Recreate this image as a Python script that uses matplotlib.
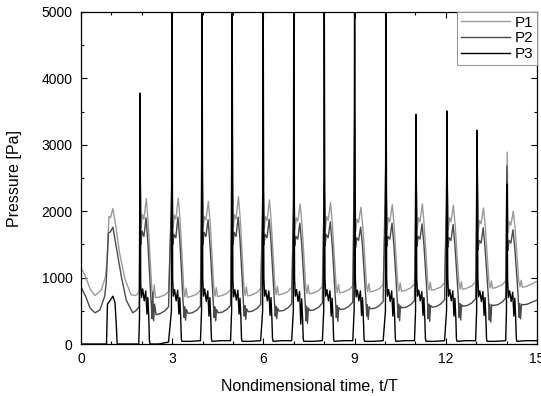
import matplotlib
matplotlib.use("Agg")
import matplotlib.pyplot as plt
from matplotlib.ticker import MultipleLocator

plt.rcParams['font.family'] = ['Liberation Sans', 'DejaVu Sans']

# start time of each pressure cycle (t/T)
cycle_start = [1.96, 3.01, 4.00, 4.99, 6.01, 7.02, 8.02, 9.02, 10.05, 11.04, 12.06, 13.05, 14.03]

# first (slow) bump before the periodic cycles
p1_init_t = [0.0, 0.13, 0.30, 0.46, 0.66, 0.80, 0.86, 0.92, 0.97, 1.05, 1.15, 1.27, 1.45, 1.65, 1.80, 1.92]
p1_init = [1140, 1040, 830, 730, 810, 1000, 1260, 1920, 1900, 2040, 1760, 1370, 970, 740, 730, 790]
p2_init_t = [0.0, 0.16, 0.30, 0.46, 0.62, 0.78, 0.83, 0.90, 0.97, 1.05, 1.15, 1.33, 1.49, 1.70, 1.80, 1.92]
p2_init = [860, 710, 540, 470, 510, 720, 920, 1670, 1690, 1760, 1490, 1010, 660, 470, 500, 560]
p3_init_t = [0.0, 0.84, 0.87, 0.95, 1.05, 1.12, 1.16, 1.19, 1.90]
p3_init = [0, 0, 600, 650, 720, 620, 300, 0, 0]

# P1: values at fixed phases inside each cycle
p1_phase = [-0.01, 0.02, 0.06, 0.11, 0.19, 0.25, 0.37, 0.41, 0.45, 0.49, 0.60, 0.80, 0.92]
p1_cycles = [
    [2420, 1750, 1950, 1880, 2190, 1820, 820, 700, 890, 700, 705, 740, 790],
    [2300, 1750, 1940, 1880, 2200, 1870, 830, 710, 840, 705, 715, 750, 810],
    [2570, 1750, 1920, 1870, 2150, 1820, 840, 720, 850, 715, 725, 760, 820],
    [2350, 1750, 1950, 1880, 2220, 1870, 850, 730, 860, 725, 735, 775, 835],
    [2300, 1740, 1920, 1860, 2170, 1820, 860, 745, 870, 740, 750, 790, 850],
    [2200, 1730, 1900, 1850, 2110, 1800, 870, 760, 890, 755, 765, 805, 865],
    [2300, 1730, 1920, 1860, 2130, 1800, 880, 775, 900, 770, 780, 820, 880],
    [2400, 1700, 1880, 1830, 2060, 1770, 890, 790, 910, 785, 795, 835, 895],
    [2400, 1720, 1900, 1840, 2100, 1780, 900, 800, 920, 795, 805, 845, 905],
    [2400, 1720, 1900, 1840, 2110, 1780, 910, 815, 930, 810, 820, 860, 920],
    [2400, 1720, 1900, 1840, 2090, 1780, 920, 830, 940, 825, 835, 875, 935],
    [2400, 1700, 1860, 1810, 2050, 1760, 930, 845, 950, 840, 850, 890, 950],
    [2890, 1680, 1840, 1790, 2000, 1740, 940, 860, 960, 855, 865, 905, 935],
]
p1_end = 940

# P2
p2_phase = [-0.02, 0.01, 0.05, 0.11, 0.18, 0.24, 0.35, 0.38, 0.40, 0.43, 0.46, 0.51, 0.65, 0.80, 0.92]
p2_cycles = [
    [3300, 1500, 1700, 1620, 1900, 1520, 600, 380, 780, 350, 600, 440, 460, 500, 560],
    [2470, 1500, 1650, 1600, 1910, 1570, 620, 400, 560, 360, 520, 460, 470, 510, 570],
    [3400, 1500, 1680, 1620, 1870, 1520, 630, 400, 560, 350, 520, 470, 480, 520, 580],
    [3700, 1500, 1680, 1620, 1910, 1570, 640, 420, 580, 370, 530, 485, 495, 535, 595],
    [2570, 1500, 1650, 1600, 1880, 1540, 650, 420, 570, 380, 540, 495, 505, 545, 605],
    [2270, 1480, 1620, 1580, 1820, 1500, 660, 350, 570, 310, 540, 505, 515, 555, 615],
    [2420, 1480, 1650, 1600, 1840, 1520, 670, 400, 580, 340, 550, 520, 530, 570, 630],
    [3370, 1450, 1600, 1560, 1760, 1470, 680, 420, 590, 370, 560, 530, 540, 580, 640],
    [2890, 1470, 1620, 1580, 1820, 1500, 690, 400, 600, 350, 570, 545, 555, 595, 655],
    [3020, 1470, 1620, 1580, 1810, 1500, 700, 380, 600, 340, 580, 555, 565, 605, 665],
    [2820, 1460, 1600, 1560, 1800, 1490, 710, 400, 610, 360, 590, 570, 580, 620, 680],
    [3150, 1420, 1560, 1520, 1750, 1450, 720, 360, 600, 330, 590, 580, 590, 630, 690],
    [2680, 1400, 1560, 1520, 1720, 1440, 730, 400, 610, 380, 600, 590, 600, 630, 650],
]
p2_end = 660

# P3
p3_phase = [-0.035, -0.02, 0.005, 0.03, 0.07, 0.12, 0.17, 0.21, 0.24, 0.27, 0.29, 0.31, 0.60, 0.92]
p3_cycles = [
    [400, 3780, 900, 700, 830, 650, 800, 450, 700, 400, 60, 0, 0, 30],
    [500, 6000, 1000, 720, 820, 650, 810, 450, 700, 400, 80, 40, 40, 50],
    [500, 6000, 1000, 720, 830, 640, 800, 420, 700, 380, 80, 40, 50, 50],
    [500, 6000, 1000, 710, 820, 660, 810, 450, 690, 400, 80, 40, 40, 50],
    [500, 6000, 1000, 720, 810, 650, 800, 430, 700, 380, 80, 40, 50, 50],
    [500, 6000, 1000, 720, 820, 640, 790, 300, 680, 380, 80, 40, 40, 50],
    [500, 6000, 1000, 720, 820, 650, 800, 420, 690, 400, 80, 40, 50, 50],
    [500, 6000, 1000, 710, 810, 650, 800, 430, 700, 380, 80, 40, 40, 50],
    [500, 6000, 1000, 720, 820, 640, 800, 420, 690, 390, 80, 40, 50, 50],
    [500, 3460, 1000, 720, 810, 650, 790, 430, 700, 380, 80, 40, 40, 50],
    [500, 3510, 1000, 720, 820, 650, 800, 420, 690, 390, 80, 40, 50, 50],
    [500, 3220, 1000, 710, 800, 640, 790, 430, 700, 380, 80, 40, 40, 50],
    [500, 2410, 950, 700, 800, 640, 780, 420, 690, 380, 80, 40, 50, 50],
]
p3_end = 50


def build(t0, p0, phases, rows, p_end):
    t = list(t0)
    p = list(p0)
    for k, row in zip(cycle_start, rows):
        for ph, v in zip(phases, row):
            t.append(k + ph)
            p.append(v)
    t.append(15.0)
    p.append(p_end)
    return t, p


t1, y1 = build(p1_init_t, p1_init, p1_phase, p1_cycles, p1_end)
t2, y2 = build(p2_init_t, p2_init, p2_phase, p2_cycles, p2_end)
t3, y3 = build(p3_init_t, p3_init, p3_phase, p3_cycles, p3_end)

fig = plt.figure(figsize=(5.41, 3.96), dpi=100)
ax = fig.add_axes([0.1497, 0.1313, 0.9926 - 0.1497, 0.9697 - 0.1313])

ax.plot(t1, y1, color='#9a9a9a', lw=1.0, label='P1')
ax.plot(t2, y2, color='#4a4a4a', lw=1.0, label='P2')
ax.plot(t3, y3, color='black', lw=1.0, label='P3')

ax.set_xlim(0, 15)
ax.set_ylim(0, 5000)
ax.xaxis.set_major_locator(MultipleLocator(3))
ax.xaxis.set_minor_locator(MultipleLocator(1))
ax.yaxis.set_major_locator(MultipleLocator(1000))
ax.yaxis.set_minor_locator(MultipleLocator(500))
ax.tick_params(which='both', direction='in', top=True, right=True, labelsize=10)
ax.tick_params(which='major', length=4, width=0.8, pad=6)
ax.tick_params(which='minor', length=2.5, width=0.8)
for s in ax.spines.values():
    s.set_linewidth(0.9)

ax.set_xlabel('Nondimensional time, t/T', fontsize=11.5, labelpad=9)
ax.set_ylabel('Pressure [Pa]', fontsize=11.5, labelpad=14)

leg = ax.legend(loc='upper right', fontsize=11, handlelength=3.2, borderaxespad=0,
                fancybox=False, framealpha=1, labelspacing=0.1, borderpad=0.25,
                handletextpad=0.3)
leg.get_frame().set_edgecolor('#999999')
leg.get_frame().set_linewidth(0.8)

fig.savefig('out.png', dpi=100)
